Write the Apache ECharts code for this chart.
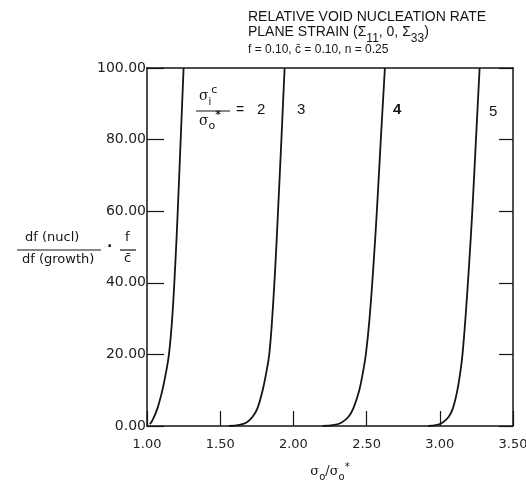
<!DOCTYPE html>
<html>
<head>
<meta charset="utf-8">
<script src="https://cdn.jsdelivr.net/npm/echarts@6/dist/echarts.min.js"></script>
<style>
  html, body { margin: 0; padding: 0; background: #fff; }
  #main { width: 526px; height: 482px; }
</style>
</head>
<body>
<div id="main"></div>
<script>
// curves: [sigma_o/sigma_o*, rate], one per sigma_i^c/sigma_o* value
const ratio2 = [[1.02, 0.5], [1.042, 2], [1.072, 5], [1.105, 10], [1.13, 15], [1.15, 20], [1.172, 30], [1.193, 45], [1.21, 60], [1.23, 80], [1.25, 100]];
const ratio3 = [[1.56, 0], [1.63, 0.3], [1.68, 1], [1.72, 2.5], [1.755, 5], [1.79, 10], [1.815, 15], [1.835, 20], [1.855, 30], [1.877, 45], [1.895, 60], [1.918, 80], [1.94, 100]];
const ratio4 = [[2.2, 0], [2.28, 0.3], [2.33, 1], [2.375, 2.5], [2.41, 5], [2.45, 10], [2.475, 15], [2.495, 20], [2.52, 30], [2.547, 45], [2.57, 60], [2.597, 80], [2.625, 100]];
const ratio5 = [[2.92, 0], [2.98, 0.3], [3.02, 1], [3.06, 2.5], [3.09, 5], [3.12, 10], [3.14, 15], [3.155, 20], [3.175, 30], [3.2, 45], [3.222, 60], [3.247, 80], [3.272, 100]];
const curveNames = ['2', '3', '4', '5'];

const ink = '#151515';
const axisFont = 'DejaVu Sans';

const chart = echarts.init(document.getElementById('main'));

function curve(name, data) {
  return {
    name: name,
    type: 'line',
    data: data,
    showSymbol: false,
    smooth: 0.4,
    lineStyle: { color: ink, width: 1.8 },
    silent: true
  };
}

const supSub = {
  s: { fontFamily: 'DejaVu Serif', fontSize: 13, color: ink, verticalAlign: 'middle' },
  sub: { fontFamily: 'DejaVu Sans', fontSize: 10, color: ink, verticalAlign: 'bottom' },
  sup: { fontFamily: 'DejaVu Sans', fontSize: 10, color: ink, verticalAlign: 'top' }
};

const option = {
  backgroundColor: '#fff',
  animation: false,
  grid: { left: 147, right: 13, top: 68, bottom: 56, containLabel: false, outerBoundsMode: 'none' },
  xAxis: [
    {
      type: 'value', min: 1, max: 3.5, interval: 0.5, position: 'bottom',
      axisLine: { show: true, onZero: false, lineStyle: { color: ink, width: 1.5 } },
      axisTick: { show: true, inside: true, length: 15, lineStyle: { color: ink, width: 1.2 } },
      axisLabel: { formatter: v => v.toFixed(2), fontFamily: axisFont, fontSize: 13, color: '#222', margin: 12 },
      splitLine: { show: false },
      name: '{s|σ}{sub|o}{s|/σ}{sub|o}{sup|*}',
      nameLocation: 'middle',
      nameGap: 36,
      nameTextStyle: { lineHeight: 20, rich: supSub }
    },
    {
      type: 'value', min: 1, max: 3.5, interval: 0.5, position: 'top',
      axisLine: { show: true, onZero: false, lineStyle: { color: ink, width: 1.5 } },
      axisTick: { show: false }, axisLabel: { show: false }, splitLine: { show: false }
    }
  ],
  yAxis: [
    {
      type: 'value', min: 0, max: 100, interval: 20, position: 'left',
      axisLine: { show: true, onZero: false, lineStyle: { color: ink, width: 1.5 } },
      axisTick: { show: true, inside: true, length: 17, lineStyle: { color: ink, width: 1.2 } },
      axisLabel: { formatter: v => v.toFixed(2), fontFamily: axisFont, fontSize: 14, color: '#222', margin: 1 },
      splitLine: { show: false }
    },
    {
      type: 'value', min: 0, max: 100, interval: 20, position: 'right',
      axisLine: { show: true, onZero: false, lineStyle: { color: ink, width: 1.5 } },
      axisTick: { show: true, inside: true, length: 14, lineStyle: { color: ink, width: 1.2 } },
      axisLabel: { show: false }, splitLine: { show: false }
    }
  ],
  series: [
    curve(curveNames[0], ratio2),
    curve(curveNames[1], ratio3),
    curve(curveNames[2], ratio4),
    curve(curveNames[3], ratio5)
  ],
  graphic: [
    // title block
    { type: 'text', left: 248, top: 10, style: { text: 'RELATIVE VOID NUCLEATION RATE', font: '14px "Liberation Sans"', fill: ink } },
    {
      type: 'text', left: 248, top: 25,
      style: {
        text: '{t|PLANE STRAIN (Σ}{b|11}{t|, 0, Σ}{b|33}{t|)}',
        rich: {
          t: { font: '14px "Liberation Sans"', fill: ink, verticalAlign: 'top', lineHeight: 20 },
          b: { font: '12px "Liberation Sans"', fill: ink, verticalAlign: 'bottom', lineHeight: 20 }
        }
      }
    },
    { type: 'text', left: 248, top: 44, style: { text: 'f = 0.10, c\u0304 = 0.10, n = 0.25', font: '12px "Liberation Sans"', fill: ink } },

    // y axis name: df(nucl)/df(growth) . f/c
    { type: 'text', left: 25, top: 231, style: { text: 'df (nucl)', font: '13px "DejaVu Sans"', fill: ink } },
    { type: 'line', shape: { x1: 17, y1: 250, x2: 101, y2: 250 }, style: { stroke: ink, lineWidth: 1.2 } },
    { type: 'text', left: 22, top: 253, style: { text: 'df (growth)', font: '13px "DejaVu Sans"', fill: ink } },
    { type: 'text', left: 107, top: 240, style: { text: '·', font: 'bold 14px "DejaVu Sans"', fill: ink } },
    { type: 'text', left: 125, top: 231, style: { text: 'f', font: '13px "DejaVu Sans"', fill: ink } },
    { type: 'line', shape: { x1: 120, y1: 250, x2: 136, y2: 250 }, style: { stroke: ink, lineWidth: 1.2 } },
    { type: 'text', left: 124, top: 252, style: { text: 'c\u0304', font: '13px "DejaVu Sans"', fill: ink } },

    // in-plot key: sigma_i^c / sigma_o* = 2, 3, 4, 5
    {
      type: 'text', left: 199, top: 85,
      style: {
        text: '{s|σ}{sub|i}{sup|c}',
        rich: {
          s: { font: '14px "DejaVu Serif"', fill: ink, verticalAlign: 'middle', lineHeight: 22 },
          sub: { font: '10px "DejaVu Sans"', fill: ink, verticalAlign: 'bottom', lineHeight: 22 },
          sup: { font: '11px "DejaVu Sans"', fill: ink, verticalAlign: 'top', lineHeight: 22 }
        }
      }
    },
    { type: 'line', shape: { x1: 196, y1: 111, x2: 230, y2: 111 }, style: { stroke: ink, lineWidth: 1.1 } },
    {
      type: 'text', left: 199, top: 110,
      style: {
        text: '{s|σ}{sub|o}{sup|*}',
        rich: {
          s: { font: '14px "DejaVu Serif"', fill: ink, verticalAlign: 'middle', lineHeight: 22 },
          sub: { font: '11px "DejaVu Sans"', fill: ink, verticalAlign: 'bottom', lineHeight: 22 },
          sup: { font: 'bold 11px "DejaVu Sans"', fill: ink, verticalAlign: 'top', lineHeight: 22 }
        }
      }
    },
    { type: 'text', left: 236, top: 103, style: { text: '=', font: '14px "Liberation Sans"', fill: ink } },
    { type: 'text', left: 257, top: 102, style: { text: curveNames[0], font: '15px "Liberation Sans"', fill: ink } },
    { type: 'text', left: 297, top: 102, style: { text: curveNames[1], font: '15px "Liberation Sans"', fill: ink } },
    { type: 'text', left: 393, top: 102, style: { text: curveNames[2], font: 'bold 15px "Liberation Sans"', fill: ink } },
    { type: 'text', left: 489, top: 104, style: { text: curveNames[3], font: '15px "Liberation Sans"', fill: ink } }
  ]
};

chart.setOption(option);
</script>
</body>
</html>
